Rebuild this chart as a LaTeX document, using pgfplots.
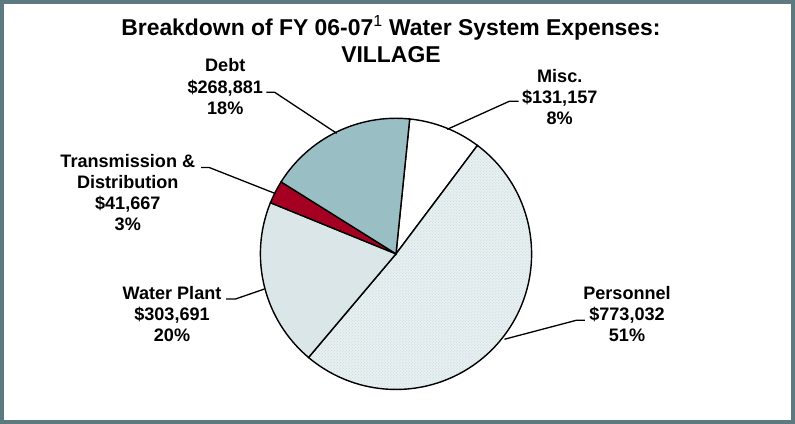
\documentclass[border=0pt]{standalone}
\usepackage{pgfplots}
\pgfplotsset{compat=1.18}
\usepackage{fontspec}
\setmainfont{Liberation Sans}
\usetikzlibrary{patterns}

\definecolor{cFrame}{RGB}{92,122,128}
\definecolor{cMisc}{RGB}{255,255,255}
\definecolor{cPers}{RGB}{232,240,241}
\definecolor{cWater}{RGB}{218,230,232}
\definecolor{cTD}{RGB}{165,0,33}
\definecolor{cDebt}{RGB}{153,190,196}

% slice values, clockwise from the top
\def\vMisc{131157}
\def\vPers{773032}
\def\vWater{303691}
\def\vTD{41667}
\def\vDebt{268881}
\edef\total{\fpeval{\vMisc+\vPers+\vWater+\vTD+\vDebt}}
\edef\aA{84.2}
\edef\aB{\fpeval{round(\aA-360*\vMisc/\total,3)}}
\edef\aC{\fpeval{round(\aB-360*\vPers/\total,3)}}
\edef\aD{\fpeval{round(\aC-360*\vWater/\total,3)}}
\edef\aE{\fpeval{round(\aD-360*\vTD/\total,3)}}
\edef\aF{\fpeval{round(\aE-360*\vDebt/\total,3)}}
\def\R{135bp}

\begin{document}
\begin{tikzpicture}
\begin{axis}[
  width=795bp, height=427bp, scale only axis,
  xmin=0, xmax=795, ymin=0, ymax=427, y dir=reverse,
  hide axis, clip=false,
]
% frame
\draw[cFrame, line width=3.5bp] (axis cs:4.5,4) rectangle (axis cs:792.5,422.5);

% slices
\filldraw[fill=cMisc, draw=black, line width=1.4bp] (axis cs:397,255) -- ++(\aA:\R) arc[start angle=\aA, end angle=\aB, radius=\R] -- cycle;
\fill[cPers] (axis cs:397,255) -- ++(\aB:\R) arc[start angle=\aB, end angle=\aC, radius=\R] -- cycle;
\fill[pattern=crosshatch dots, pattern color=cDebt!60] (axis cs:397,255) -- ++(\aB:\R) arc[start angle=\aB, end angle=\aC, radius=\R] -- cycle;
\draw[black, line width=1.4bp] (axis cs:397,255) -- ++(\aB:\R) arc[start angle=\aB, end angle=\aC, radius=\R] -- cycle;
\filldraw[fill=cWater, draw=black, line width=1.4bp] (axis cs:397,255) -- ++(\aC:\R) arc[start angle=\aC, end angle=\aD, radius=\R] -- cycle;
\filldraw[fill=cTD, draw=black, line width=1.4bp] (axis cs:397,255) -- ++(\aD:\R) arc[start angle=\aD, end angle=\aE, radius=\R] -- cycle;
\filldraw[fill=cDebt, draw=black, line width=1.4bp] (axis cs:397,255) -- ++(\aE:\R) arc[start angle=\aE, end angle=\aF, radius=\R] -- cycle;

% leader lines
\draw[line width=1.3bp] (axis cs:519,103) -- (axis cs:510,103) -- (axis cs:448,131);
\draw[line width=1.3bp] (axis cs:268,94) -- (axis cs:276,94) -- (axis cs:338,135);
\draw[line width=1.3bp] (axis cs:203,169) -- (axis cs:211,169) -- (axis cs:277,195);
\draw[line width=1.3bp] (axis cs:228,300) -- (axis cs:237,300) -- (axis cs:266,290);
\draw[line width=1.3bp] (axis cs:585,321) -- (axis cs:577,321) -- (axis cs:505,340);

% title
\node[align=center, inner sep=0, font=\fontsize{22.8bp}{27bp}\selectfont\bfseries]
  at (axis cs:392,41) {Breakdown of FY 06-07\textsuperscript{\mdseries 1} Water System Expenses:\\VILLAGE};

% labels
\tikzset{lbl/.style={align=center, inner sep=0, font=\fontsize{18bp}{21bp}\selectfont\bfseries}}
\node[lbl] at (axis cs:560,98.5) {Misc.\\\$131,157\\8\%};
\node[lbl] at (axis cs:227,88.5) {Debt\\\$268,881\\18\%};
\node[lbl] at (axis cs:130,194) {Transmission \&\\Distribution\\\$41,667\\3\%};
\node[lbl] at (axis cs:174,315) {Water Plant\\\$303,691\\20\%};
\node[lbl] at (axis cs:627,315) {Personnel\\\$773,032\\51\%};
\end{axis}
\end{tikzpicture}
\end{document}
